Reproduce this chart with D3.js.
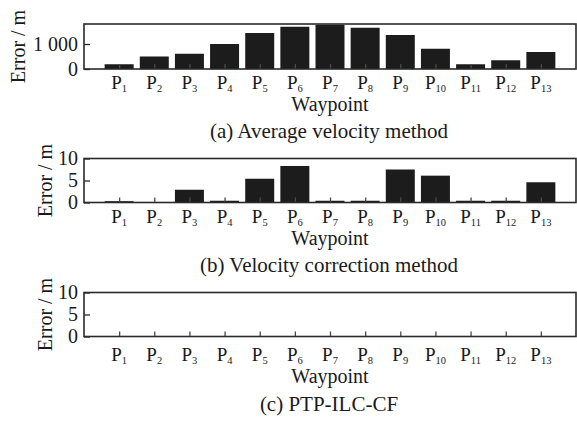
<!DOCTYPE html>
<html>
<head>
<meta charset="utf-8">
<script src="https://cdn.jsdelivr.net/npm/d3@7"></script>
<style>
  body { margin: 0; background: #fff; }
  svg { display: block; }
  text { font-family: "Liberation Serif", "Times New Roman", serif; fill: #1a1a1a; }
</style>
</head>
<body>
<svg id="chart" width="577" height="422"></svg>
<script>
// Waypoint indices (drawn as P with a subscript)
const waypoints = ["1", "2", "3", "4", "5", "6", "7", "8", "9", "10", "11", "12", "13"];

// Position error at each waypoint, metres
const avgVelocityError   = [190, 500, 610, 1000, 1440, 1690, 1770, 1650, 1360, 810, 190, 350, 680];
const velCorrectionError = [0.3, 0, 2.9, 0.4, 5.4, 8.3, 0.4, 0.4, 7.5, 6.1, 0.4, 0.4, 4.6];
const ptpIlcCfError      = [0, 0, 0, 0, 0, 0, 0, 0, 0, 0, 0, 0, 0];

// Y tick values per panel
const ticksA = [0, 1000];
const ticksB = [0, 5, 10];
const ticksC = [0, 5, 10];

const captions = ["(a) Average velocity method", "(b) Velocity correction method", "(c) PTP-ILC-CF"];
const yTitle = "Error / m";
const xTitle = "Waypoint";

const svg = d3.select("#chart");
const left = 84, right = 576;
const x = d3.scaleLinear().domain([0, 14]).range([left, right]);
const barW = (x(1) - x(0)) * 0.825;
const midX = (left + right) / 2;

const fmt = v => d3.format(",")(v).replace(/,/g, " ");

const panels = [
  { values: avgVelocityError,   ticks: ticksA, yMax: 1800, top: 24,    bottom: 69,    titleX: 25, pBase: 89,  wpBase: 111, capBase: 137.5, caption: captions[0] },
  { values: velCorrectionError, ticks: ticksB, yMax: 10,   top: 158.5, bottom: 202.5, titleX: 52, pBase: 223, wpBase: 245, capBase: 271.5, caption: captions[1] },
  { values: ptpIlcCfError,      ticks: ticksC, yMax: 10,   top: 292.5, bottom: 336.5, titleX: 52, pBase: 361, wpBase: 383, capBase: 411,   caption: captions[2] }
];

panels.forEach(p => {
  const y = d3.scaleLinear().domain([0, p.yMax]).range([p.bottom, p.top]);
  const g = svg.append("g");

  // bars
  g.selectAll("rect.bar")
    .data(p.values)
    .join("rect")
    .attr("class", "bar")
    .attr("x", (d, i) => x(i + 1) - barW / 2)
    .attr("width", barW)
    .attr("y", d => y(d))
    .attr("height", d => y(0) - y(d))
    .attr("fill", "#1c1c1c");

  // x axis ticks pointing inward
  const xAxis = d3.axisBottom(x)
    .tickValues(waypoints.map((w, i) => i + 1))
    .tickSize(-5)
    .tickFormat("");
  const gx = g.append("g").attr("transform", `translate(0,${p.bottom})`).call(xAxis);
  gx.select(".domain").remove();
  gx.selectAll(".tick line").attr("stroke", "#4a4a4a").attr("stroke-width", 1.3);

  // y axis ticks pointing inward
  const yAxis = d3.axisLeft(y)
    .tickValues(p.ticks)
    .tickSize(-6)
    .tickPadding(6)
    .tickFormat(fmt);
  const gy = g.append("g").attr("transform", `translate(${left},0)`).call(yAxis);
  gy.select(".domain").remove();
  gy.selectAll(".tick line").attr("stroke", "#2a2a2a").attr("stroke-width", 1.3);
  gy.selectAll(".tick text")
    .attr("font-family", "Liberation Serif, serif")
    .attr("font-size", 20)
    .attr("fill", "#1a1a1a");

  // frame
  g.append("rect")
    .attr("x", left).attr("y", p.top)
    .attr("width", right - left).attr("height", p.bottom - p.top)
    .attr("fill", "none")
    .attr("stroke", "#2a2a2a")
    .attr("stroke-width", 1.6);

  // waypoint labels P with subscript
  const lbl = g.selectAll("text.wp")
    .data(waypoints)
    .join("text")
    .attr("class", "wp")
    .attr("x", (d, i) => x(i + 1))
    .attr("y", p.pBase)
    .attr("text-anchor", "middle")
    .attr("font-size", 19);
  lbl.append("tspan").text("P");
  lbl.append("tspan").attr("font-size", 10.5).attr("dy", 3).text(d => d);

  // x title
  g.append("text")
    .attr("x", midX).attr("y", p.wpBase)
    .attr("text-anchor", "middle")
    .attr("font-size", 20)
    .text(xTitle);

  // y title
  g.append("text")
    .attr("transform", `translate(${p.titleX},${(p.top + p.bottom) / 2}) rotate(-90)`)
    .attr("text-anchor", "middle")
    .attr("font-size", 20)
    .text(yTitle);

  // caption
  g.append("text")
    .attr("x", midX - 1).attr("y", p.capBase)
    .attr("text-anchor", "middle")
    .attr("font-size", 21)
    .text(p.caption);
});
</script>
</body>
</html>
